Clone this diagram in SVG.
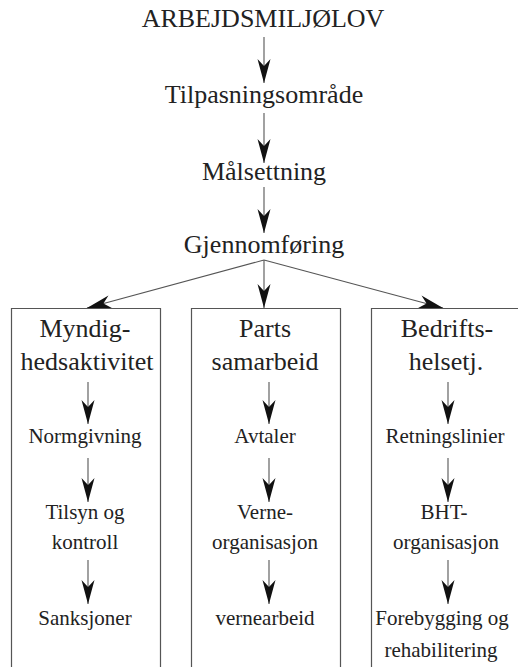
<svg xmlns="http://www.w3.org/2000/svg" width="518" height="667" viewBox="0 0 518 667">
<defs>
<marker id="ah" viewBox="-25 -7 25 14" refX="0" refY="0" markerWidth="25" markerHeight="14" markerUnits="userSpaceOnUse" orient="auto">
<path d="M0,0 L-24,-6.5 L-17,0 L-24,6.5 Z" fill="#111"/>
</marker>
<style>
text{font-family:'Liberation Serif','Times New Roman',Times,'Nimbus Roman','DejaVu Serif',serif;fill:#222;text-anchor:middle}
.big{font-size:26px}
.sm{font-size:21px}
.box{fill:none;stroke:#555;stroke-width:1.2}
.con line{stroke:#555;stroke-width:1.1;marker-end:url(#ah)}
</style>
</defs>
<rect width="518" height="667" fill="#fff"/>
<g id="n-arbejdsmiljolov"><text class="big" x="263" y="27">ARBEJDSMILJØLOV</text></g>
<g id="n-tilpasning"><text class="big" x="264" y="103">Tilpasningsområde</text></g>
<g id="n-malsettning"><text class="big" x="264" y="180">Målsettning</text></g>
<g id="n-gjennomforing"><text class="big" x="264" y="253">Gjennomføring</text></g>
<g id="box-myndighet">
<path class="box" d="M11.5,667 V308.5 H160.5 V667"/>
<text class="big" x="85" y="337">Myndig-</text>
<text class="big" x="87" y="370">hedsaktivitet</text>
</g>
<g id="box-parts">
<path class="box" d="M191.5,667 V308.5 H340.5 V667"/>
<text class="big" x="265" y="337">Parts</text>
<text class="big" x="265" y="370">samarbeid</text>
</g>
<g id="box-bedrift">
<path class="box" d="M371.5,667 V308.5 H518"/>
<text class="big" x="447" y="337">Bedrifts-</text>
<text class="big" x="446" y="370">helsetj.</text>
</g>
<g id="n-normgivning"><text class="sm" x="85" y="443">Normgivning</text></g>
<g id="n-tilsyn"><text class="sm" x="85" y="519">Tilsyn og</text><text class="sm" x="85" y="549">kontroll</text></g>
<g id="n-sanksjoner"><text class="sm" x="85" y="625">Sanksjoner</text></g>
<g id="n-avtaler"><text class="sm" x="265" y="443">Avtaler</text></g>
<g id="n-verneorg"><text class="sm" x="265" y="519">Verne-</text><text class="sm" x="265" y="549">organisasjon</text></g>
<g id="n-vernearbeid"><text class="sm" x="265" y="625">vernearbeid</text></g>
<g id="n-retningslinier"><text class="sm" x="445" y="443">Retningslinier</text></g>
<g id="n-bht"><text class="sm" x="444" y="519">BHT-</text><text class="sm" x="446" y="549">organisasjon</text></g>
<g id="n-forebygging"><text class="sm" x="442" y="625">Forebygging og</text><text class="sm" x="441" y="657">rehabilitering</text></g>
<g id="connectors" class="con">
<line x1="264" y1="37" x2="264" y2="83"/>
<line x1="264" y1="113" x2="264" y2="163"/>
<line x1="264" y1="187" x2="264" y2="233"/>
<line x1="264" y1="260" x2="264" y2="308"/>
<line x1="264" y1="260" x2="87" y2="308"/>
<line x1="264" y1="260" x2="443" y2="308"/>
<line x1="88" y1="382" x2="88" y2="424"/>
<line x1="88" y1="458" x2="88" y2="502"/>
<line x1="88" y1="560" x2="88" y2="604"/>
<line x1="269" y1="382" x2="269" y2="424"/>
<line x1="269" y1="458" x2="269" y2="502"/>
<line x1="269" y1="560" x2="269" y2="604"/>
<line x1="448" y1="382" x2="448" y2="424"/>
<line x1="448" y1="458" x2="448" y2="502"/>
<line x1="448" y1="560" x2="448" y2="604"/>
</g>
</svg>
